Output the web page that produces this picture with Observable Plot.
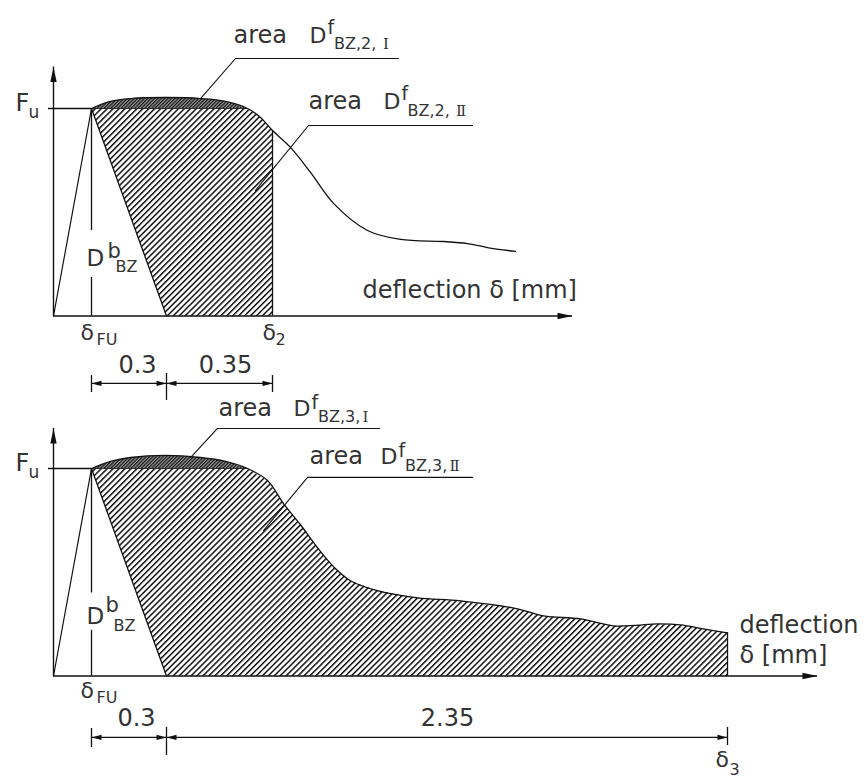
<!DOCTYPE html>
<html><head><meta charset="utf-8">
<script src="https://cdn.jsdelivr.net/npm/d3@7"></script>
<script src="https://cdn.jsdelivr.net/npm/@observablehq/plot@0.6"></script>
<style>
body{margin:0;background:#fff;}
#chart{position:relative;width:866px;height:780px;background:#fff;}
#chart svg{display:block;position:absolute;left:0;overflow:visible;background:transparent !important;}
</style></head><body><div id="chart"></div>
<script>
// ---------------- data (schematic deflection δ in mm, force as F / Fu) ----------------
const deltaFU = 0.152;               // δFU
const dimOffset = 0.3;               // descending line: δFU + 0.3
const delta2 = 0.876;                // δ2 (panel 2)
const delta3 = 2.696;                // δ3 (panel 3)
const dimLabels2 = ["0.3", "0.35"];
const dimLabels3 = ["0.3", "2.35"];
const areaSub2 = ["BZ,2,", "BZ,2,"];
const areaSub3 = ["BZ,3,", "BZ,3,"];
const numerals = ["Ⅰ", "Ⅱ"];
const axisTitle = ["deflection δ [mm]", "deflection", "δ [mm]"];

// load-deflection curve, panel 2
const curve2X = [0.152, 0.228, 0.308, 0.456, 0.588, 0.688, 0.776, 0.828, 0.876, 0.948, 1.028, 1.12, 1.256, 1.388, 1.56, 1.656, 1.736, 1.848];
const curve2Y = [1.0, 1.034, 1.048, 1.053, 1.048, 1.034, 1.0, 0.957, 0.894, 0.8125, 0.692, 0.543, 0.412, 0.369, 0.359, 0.349, 0.330, 0.311];
// load-deflection curve, panel 3
const curve3X = [0.152, 0.228, 0.308, 0.448, 0.588, 0.688, 0.776, 0.856, 0.92, 0.988, 1.056, 1.12, 1.188, 1.296, 1.456, 1.628, 1.856, 1.96, 2.108, 2.24, 2.328, 2.416, 2.508, 2.6, 2.696];
const curve3Y = [1.0, 1.034, 1.053, 1.063, 1.053, 1.034, 1.0, 0.942, 0.831, 0.729, 0.618, 0.527, 0.459, 0.411, 0.377, 0.362, 0.324, 0.290, 0.275, 0.242, 0.244, 0.251, 0.246, 0.227, 0.208];

// ---------------- symbols for arrowheads ----------------
const arrowUp = {draw(c){c.moveTo(0,0);c.lineTo(3.2,15);c.lineTo(-3.2,15);c.closePath();}};
const arrowRight = {draw(c){c.moveTo(0,0);c.lineTo(-15,-3.2);c.lineTo(-15,3.2);c.closePath();}};
const dimLeft = {draw(c){c.moveTo(0,0);c.lineTo(10,-2.6);c.lineTo(10,2.6);c.closePath();}};
const dimRight = {draw(c){c.moveTo(0,0);c.lineTo(-10,-2.6);c.lineTo(-10,2.6);c.closePath();}};

const INK = "#111", TXT = "#333";
const FONT = "DejaVu Sans, sans-serif";
const SERIF = "DejaVu Serif, Liberation Serif, serif";

function makePanel(p) {
  const pts = p.cx.map((x, i) => ({x, y: p.cy[i]}));
  const iRet = p.cx.indexOf(p.xReturn);
  const iEnd = p.cx.indexOf(p.xEnd);
  const yEnd = p.cy[iEnd];
  const areaI = pts.slice(0, iRet + 1);
  const areaII = [{x: deltaFU, y: 1}, ...pts.slice(iRet, iEnd + 1), {x: p.xEnd, y: 0}, {x: deltaFU + dimOffset, y: 0}];
  const mid = deltaFU + dimOffset;

  const txt = (items, anchor, family = FONT) => Plot.text(items, {
    x: "x", y: "y", text: "t", fontSize: "s", textAnchor: anchor, lineAnchor: "bottom",
    fill: TXT, fontFamily: family
  });

  const svg = Plot.plot({
    width: 866, height: p.height,
    margin: 0,
    style: {background: "transparent", fontFamily: FONT, overflow: "visible"},
    x: {axis: null, domain: [0, 1], range: [53, 303]},
    y: {axis: null, domain: [0, 1], range: [315.5, 108]},
    marks: [
      // hatched areas
      Plot.line(areaI, {x: "x", y: "y", curve: "catmull-rom", fill: `url(#dense-${p.id})`, stroke: "none"}),
      Plot.line(areaII, {x: "x", y: "y", fill: `url(#hatch-${p.id})`, stroke: "none"}),
      // axes
      Plot.ruleX([0], {y1: 0, y2: p.yAxisEnd, stroke: INK, strokeWidth: 1.4}),
      Plot.ruleY([0], {x1: 0, x2: p.xAxisEnd, stroke: INK, strokeWidth: 1.4}),
      Plot.dot([{x: 0, y: p.yAxisEnd}], {x: "x", y: "y", symbol: arrowUp, fill: INK, stroke: "none"}),
      Plot.dot([{x: p.xAxisEnd, y: 0}], {x: "x", y: "y", symbol: arrowRight, fill: INK, stroke: "none"}),
      // Fu level
      Plot.ruleY([1], {x1: -0.02, x2: deltaFU, stroke: INK, strokeWidth: 1.3}),
      Plot.ruleY([1], {x1: deltaFU, x2: p.xReturn, stroke: INK, strokeWidth: 0.8}),
      // elastic branch and unloading line
      Plot.line([{x: 0, y: 0}, {x: deltaFU, y: 1}], {x: "x", y: "y", stroke: INK, strokeWidth: 1.2}),
      Plot.line([{x: deltaFU, y: 1}, {x: mid, y: 0}], {x: "x", y: "y", stroke: INK, strokeWidth: 1.3}),
      // δFU vertical with gap for label
      Plot.ruleX([{y1: 1, y2: p.gap[0]}, {y1: p.gap[1], y2: 0}], {x: () => deltaFU, y1: "y1", y2: "y2", stroke: INK, strokeWidth: 1.3}),
      // end of area vertical
      Plot.ruleX([p.xEnd], {y1: 0, y2: yEnd, stroke: INK, strokeWidth: 1.3}),
      // curve
      Plot.line(pts, {x: "x", y: "y", curve: p.curveType, stroke: INK, strokeWidth: 1.3}),
      // leaders
      Plot.line(p.leaderI, {x: "x", y: "y", stroke: INK, strokeWidth: 1.1}),
      Plot.line(p.leaderII, {x: "x", y: "y", stroke: INK, strokeWidth: 1.1}),
      // dimension line
      Plot.ruleY([p.dimY], {x1: deltaFU, x2: p.xEnd, stroke: INK, strokeWidth: 1.2}),
      Plot.ruleX(p.dimTicks, {x: "x", y1: "y1", y2: "y2", stroke: INK, strokeWidth: 1.3}),
      Plot.dot([{x: deltaFU, y: p.dimY}, {x: mid, y: p.dimY}], {x: "x", y: "y", symbol: dimLeft, fill: INK, stroke: "none"}),
      Plot.dot([{x: mid, y: p.dimY}, {x: p.xEnd, y: p.dimY}], {x: "x", y: "y", symbol: dimRight, fill: INK, stroke: "none"}),
      // texts
      txt(p.texts, "start"),
      txt(p.centered, "middle"),
      txt(p.roman, "start", SERIF)
    ]
  });

  const defs = d3.select(svg).insert("defs", ":first-child");
  const h = defs.append("pattern").attr("id", `hatch-${p.id}`).attr("patternUnits", "userSpaceOnUse")
    .attr("width", 4.2).attr("height", 4.2).attr("patternTransform", "rotate(45)");
  h.append("line").attr("x1", 0.7).attr("y1", 0).attr("x2", 0.7).attr("y2", 4.2).attr("stroke", "#000").attr("stroke-width", 1.4);
  const g = defs.append("pattern").attr("id", `dense-${p.id}`).attr("patternUnits", "userSpaceOnUse")
    .attr("width", 2.4).attr("height", 2.4).attr("patternTransform", "rotate(45)");
  g.append("rect").attr("width", 2.4).attr("height", 2.4).attr("fill", "#999");
  g.append("line").attr("x1", 0.6).attr("y1", 0).attr("x2", 0.6).attr("y2", 2.4).attr("stroke", "#111").attr("stroke-width", 1.2);
  d3.select(svg).style("top", `${p.top}px`);
  return svg;
}

const panel2 = {
  id: "p2", top: 0, height: 420, cx: curve2X, cy: curve2Y, xReturn: 0.776, xEnd: delta2, curveType: "catmull-rom",
  xAxisEnd: 2.076, yAxisEnd: 1.2, gap: [0.412, 0.186],
  dimY: -0.325,
  dimTicks: [{x: deltaFU, y1: -0.287, y2: -0.369}, {x: deltaFU + dimOffset, y1: -0.277, y2: -0.407}, {x: delta2, y1: -0.287, y2: -0.369}],
  leaderI: [{x: 1.38, y: 1.241}, {x: 0.728, y: 1.241}, {x: 0.588, y: 1.048}],
  leaderII: [{x: 1.676, y: 0.918}, {x: 1.02, y: 0.918}, {x: 0.808, y: 0.605}],
  texts: [
    {t: "F", x: -0.152, y: 0.99, s: 24}, {t: "u", x: -0.10, y: 0.952, s: 17},
    {t: "δ", x: 0.108, y: -0.118, s: 22}, {t: "FU", x: 0.172, y: -0.142, s: 16},
    {t: "δ", x: 0.836, y: -0.118, s: 22}, {t: "2", x: 0.888, y: -0.142, s: 16},
    {t: "D", x: 0.132, y: 0.243, s: 23}, {t: "b", x: 0.216, y: 0.278, s: 21}, {t: "BZ", x: 0.248, y: 0.21, s: 16},
    {t: "area", x: 0.72, y: 1.318, s: 24}, {t: "D", x: 1.024, y: 1.318, s: 22}, {t: "f", x: 1.096, y: 1.361, s: 19}, {t: areaSub2[0], x: 1.122, y: 1.289, s: 16},
    {t: "area", x: 1.02, y: 1.0, s: 24}, {t: "D", x: 1.32, y: 1.0, s: 22}, {t: "f", x: 1.392, y: 1.043, s: 19}, {t: areaSub2[1], x: 1.416, y: 0.966, s: 16},
    {t: axisTitle[0], x: 1.236, y: 0.089, s: 24}
  ],
  roman: [{t: numerals[0], x: 1.318, y: 1.289, s: 15}, {t: numerals[1], x: 1.61, y: 0.966, s: 15}],
  centered: [{t: dimLabels2[0], x: 0.336, y: -0.277, s: 24}, {t: dimLabels2[1], x: 0.688, y: -0.277, s: 24}]
};

const panel3 = {
  id: "p3", top: 360, height: 420, cx: curve3X, cy: curve3Y, xReturn: 0.776, xEnd: delta3, curveType: "catmull-rom",
  xAxisEnd: 3.056, yAxisEnd: 1.193, gap: [0.40, 0.22],
  dimY: -0.296,
  dimTicks: [{x: deltaFU, y1: -0.253, y2: -0.345}, {x: deltaFU + dimOffset, y1: -0.248, y2: -0.383}, {x: delta3, y1: -0.248, y2: -0.335}],
  leaderI: [{x: 1.304, y: 1.193}, {x: 0.656, y: 1.193}, {x: 0.548, y: 1.053}],
  leaderII: [{x: 1.676, y: 0.957}, {x: 1.016, y: 0.957}, {x: 0.84, y: 0.701}],
  texts: [
    {t: "F", x: -0.152, y: 0.99, s: 24}, {t: "u", x: -0.10, y: 0.952, s: 17},
    {t: "δ", x: 0.108, y: -0.104, s: 22}, {t: "FU", x: 0.172, y: -0.128, s: 16},
    {t: "δ", x: 2.648, y: -0.44, s: 22}, {t: "3", x: 2.704, y: -0.475, s: 16},
    {t: "D", x: 0.132, y: 0.253, s: 23}, {t: "b", x: 0.208, y: 0.31, s: 21}, {t: "BZ", x: 0.24, y: 0.219, s: 16},
    {t: "area", x: 0.66, y: 1.255, s: 24}, {t: "D", x: 0.96, y: 1.255, s: 22}, {t: "f", x: 1.032, y: 1.288, s: 19}, {t: areaSub3[0], x: 1.058, y: 1.222, s: 16},
    {t: "area", x: 1.024, y: 1.024, s: 24}, {t: "D", x: 1.308, y: 1.024, s: 22}, {t: "f", x: 1.38, y: 1.057, s: 19}, {t: areaSub3[1], x: 1.406, y: 0.99, s: 16},
    {t: axisTitle[1], x: 2.744, y: 0.205, s: 24}, {t: axisTitle[2], x: 2.744, y: 0.065, s: 24}
  ],
  roman: [{t: numerals[0], x: 1.236, y: 1.222, s: 15}, {t: numerals[1], x: 1.584, y: 0.99, s: 15}],
  centered: [{t: dimLabels3[0], x: 0.332, y: -0.239, s: 24}, {t: dimLabels3[1], x: 1.576, y: -0.239, s: 24}]
};

const root = document.getElementById("chart");
root.appendChild(makePanel(panel2));
root.appendChild(makePanel(panel3));
</script>
</body></html>
